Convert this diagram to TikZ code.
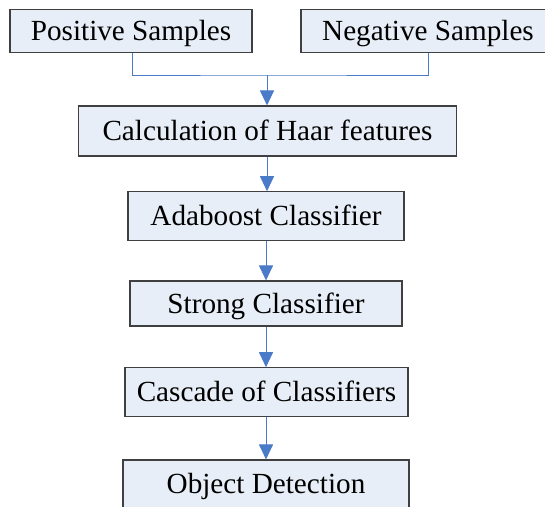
\documentclass[tikz,border=0pt]{standalone}
\usepackage{fontspec}
\setmainfont{Liberation Serif}
\usetikzlibrary{arrows.meta}
\definecolor{boxfill}{HTML}{E8EEF7}
\definecolor{boxline}{HTML}{404040}
\definecolor{linkblue}{HTML}{4A7BC8}
\begin{document}
\begin{tikzpicture}[x=1pt,y=-1pt,
  stage/.style={draw=boxline,line width=1.1pt,fill=boxfill,inner xsep=0pt,inner ysep=0pt,
    font=\fontsize{29.2}{32}\selectfont,text height=19.3pt,text depth=0pt,anchor=center},
  link/.style={draw=linkblue,line width=1pt},
  flow/.style={link,-{Triangle[width=14pt,length=15pt]}}]
\useasboundingbox (0,0) rectangle (545,506);
\node[stage,minimum width=242pt,minimum height=43pt] (pos) at (131,31) {Positive Samples};
\node[stage,minimum width=254pt,minimum height=43pt] (neg) at (428,31) {Negative Samples};
\coordinate (join) at (267,75);
\node[stage,minimum width=378pt,minimum height=50pt] (haar) at (267.5,131) {Calculation of Haar features};
\node[stage,minimum width=276pt,minimum height=48.5pt] (ada) at (266,216) {Adaboost Classifier};
\node[stage,minimum width=272pt,minimum height=45pt] (strong) at (266,303.5) {Strong Classifier};
\node[stage,minimum width=283pt,minimum height=48.5pt] (casc) at (266.5,392) {Cascade of Classifiers};
\node[stage,minimum width=286pt,minimum height=48pt] (obj) at (266,484) {Object Detection};
\draw[link] (pos.south -| 132,0) |- (join) -| (neg.south -| 428,0);
\draw[flow] (join) -- (haar.north -| join);
\draw[flow] (haar.south -| 267,0) -- (ada.north -| 267,0);
\draw[flow] (ada.south -| 266,0) -- (strong.north -| 266,0);
\draw[flow] (strong.south -| 266,0) -- (casc.north -| 266,0);
\draw[flow] (casc.south -| 266,0) -- (obj.north -| 266,0);
\end{tikzpicture}
\end{document}
